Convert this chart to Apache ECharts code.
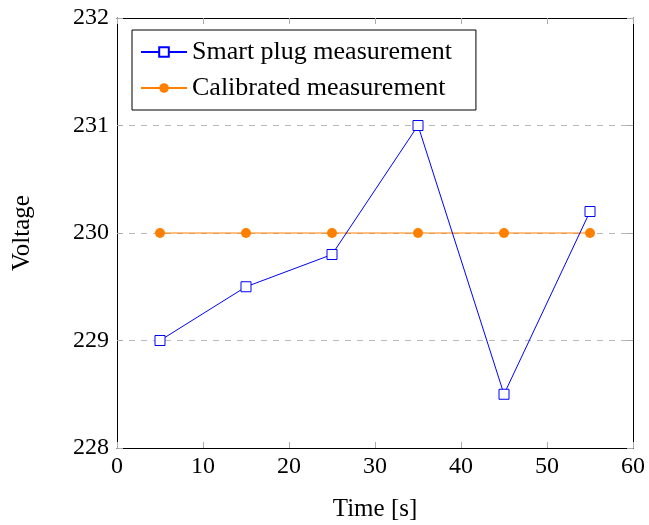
<!DOCTYPE html>
<html><head><meta charset="utf-8">
<script src="https://cdn.jsdelivr.net/npm/echarts@6/dist/echarts.min.js"></script>
<style>html,body{margin:0;padding:0;background:#fff;}#c{width:649px;height:525px;}</style>
</head><body><div id="c"></div>
<script>
const times = [5, 15, 25, 35, 45, 55];
const smartPlug = [229, 229.5, 229.8, 231, 228.5, 230.2];
const calibrated = [230, 230, 230, 230, 230, 230];
const seriesNames = ['Smart plug measurement', 'Calibrated measurement'];
const xTitle = 'Time [s]';
const yTitle = 'Voltage';

const FONT = '"Liberation Serif", "DejaVu Serif", serif';
const chart = echarts.init(document.getElementById('c'), null, {renderer: 'canvas'});
const tickStyle = {show: true, inside: true, length: 6, lineStyle: {color: '#aaaaaa', width: 1}};
const axisLine = {show: true, onZero: false, lineStyle: {color: '#000', width: 1}};
chart.setOption({
  animation: false,
  backgroundColor: '#fff',
  textStyle: {fontFamily: FONT},
  grid: {left: 117, right: 16, top: 18, bottom: 77, containLabel: false, outerBoundsMode: 'none'},
  legend: {
    orient: 'vertical', left: 132, top: 30,
    padding: [9, 24, 9, 8], itemGap: 10,
    borderColor: '#000', borderWidth: 1, backgroundColor: '#fff',
    itemWidth: 46, itemHeight: 12,
    textStyle: {fontFamily: FONT, fontSize: 26, color: '#000'},
    data: seriesNames
  },
  xAxis: [{
    type: 'value', min: 0, max: 60, interval: 10,
    name: xTitle, nameLocation: 'middle', nameGap: 49,
    nameTextStyle: {fontFamily: FONT, fontSize: 25, color: '#000'},
    axisLine: axisLine, axisTick: tickStyle,
    axisLabel: {fontFamily: FONT, fontSize: 24, color: '#000', margin: 7},
    splitLine: {show: false}
  }, {
    type: 'value', position: 'top', min: 0, max: 60, interval: 10,
    axisLine: axisLine, axisTick: tickStyle, axisLabel: {show: false}, splitLine: {show: false}
  }],
  yAxis: [{
    type: 'value', min: 228, max: 232, interval: 1,
    name: yTitle, nameLocation: 'middle', nameGap: 82, nameRotate: 90,
    nameTextStyle: {fontFamily: FONT, fontSize: 25, color: '#000'},
    axisLine: axisLine, axisTick: tickStyle,
    axisLabel: {fontFamily: FONT, fontSize: 24, color: '#000', margin: 8},
    splitLine: {show: true, lineStyle: {color: '#bbbbbb', type: [6, 6], width: 1}}
  }, {
    type: 'value', position: 'right', min: 228, max: 232, interval: 1,
    axisLine: axisLine, axisTick: tickStyle, axisLabel: {show: false}, splitLine: {show: false}
  }],
  series: [{
    name: seriesNames[0], type: 'line',
    data: times.map((t, i) => [t, smartPlug[i]]),
    symbol: 'rect', symbolSize: 10,
    lineStyle: {color: '#0000ff', width: 1},
    itemStyle: {color: '#ffffff', borderColor: '#0000ff', borderWidth: 1},
    z: 3
  }, {
    name: seriesNames[1], type: 'line',
    data: times.map((t, i) => [t, calibrated[i]]),
    symbol: 'circle', symbolSize: 10,
    lineStyle: {color: '#ff8000', width: 1},
    itemStyle: {color: '#ff8000', borderColor: '#ff8000', borderWidth: 0},
    z: 2
  }]
});
</script></body></html>
